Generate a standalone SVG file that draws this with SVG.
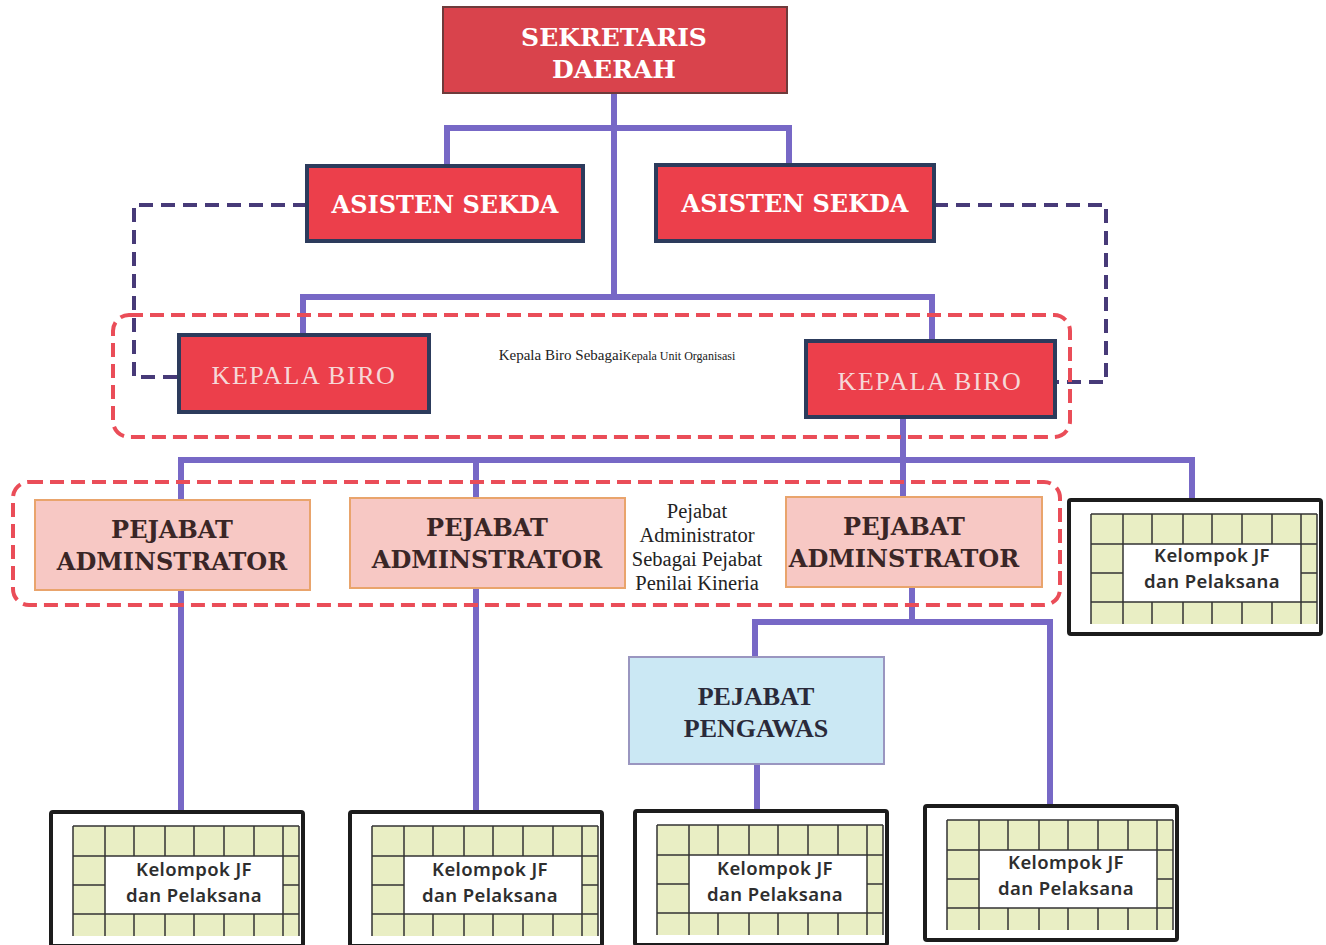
<svg xmlns="http://www.w3.org/2000/svg" xmlns:xlink="http://www.w3.org/1999/xlink" width="1326" height="945" viewBox="0 0 1326 945">
<style>
.red{fill:#ec3f4b;stroke:#2c3b5c;stroke-width:4}
.wt{fill:#ffffff;font-family:"DejaVu Serif","Liberation Serif",serif;font-weight:bold;text-anchor:middle}
.kb{fill:#f6d8d8;font-family:"Liberation Serif",serif;font-size:26px;letter-spacing:1.6px;text-anchor:middle}
.adm{fill:#f7c8c4;stroke:#e9a46c;stroke-width:2}
.admt{fill:#3a2626;font-family:"DejaVu Serif","Liberation Serif",serif;font-weight:bold;font-size:24px;text-anchor:middle}
.note{fill:#222;font-family:"Liberation Serif",serif;text-anchor:middle}
.kt{fill:#2e2e2e;font-family:"Noto Sans","Open Sans",sans-serif;font-weight:600;font-size:18.5px;letter-spacing:0.4px;text-anchor:middle}
.sol{fill:none;stroke:#7768c6;stroke-width:6}
.dsh{fill:none;stroke:#473a78;stroke-width:4;stroke-dasharray:14 8}
.rdd{fill:none;stroke:#ea4d58;stroke-width:4;stroke-dasharray:14 7}
</style>
<defs>
<g id="kjfbox">
<rect x="0" y="0" width="252" height="134" fill="#ffffff" stroke="#1c1c1c" stroke-width="4" rx="2"/>
<rect x="22" y="14" width="226" height="110" fill="#e9eec4"/>
<rect x="54" y="44" width="178" height="58" fill="#ffffff"/>
<g stroke="#333" stroke-width="1.5" fill="none">
<path d="M22,14 H248 M22,44 H248 M22,73 H54 M232,73 H248 M22,102 H248"/>
<path d="M22,14 V124 M54,14 V124 M248,14 V124 M232,14 V124"/>
<path d="M83,14 V44 M114,14 V44 M143,14 V44 M173,14 V44 M203,14 V44"/>
<path d="M83,102 V124 M114,102 V124 M143,102 V124 M173,102 V124 M203,102 V124"/>
</g>
</g>
</defs>
<rect width="1326" height="945" fill="#ffffff"/>

<g id="connectors">
<path class="sol" d="M614,93 V297 M447,166 V128 H789 V165 M303,335 V297 H932 V342 M903,417 V460 M181,500 V460 H1192 V499 M476,460 V498 M903,460 V497 M181,590 V811 M476,588 V811 M912,587 V622 M755,657 V622 H1050 V805 M757,764 V810"/>
<path class="dsh" d="M307,205 H134 V377 H179 M934,205 H1106 V382 H1055"/>
<rect class="rdd" x="113" y="315" width="957" height="122" rx="16"/>
<rect class="rdd" x="13" y="482" width="1047" height="123" rx="16"/>
</g>

<g id="sekda">
<rect x="443" y="7" width="344" height="86" fill="#d9434c" stroke="#6e3b3b" stroke-width="2"/>
<text class="wt" x="614" y="46" font-size="25">SEKRETARIS</text>
<text class="wt" x="614" y="78" font-size="25">DAERAH</text>
</g>

<g id="asisten1">
<rect class="red" x="307" y="166" width="276" height="75"/>
<text class="wt" x="445" y="213" font-size="24">ASISTEN SEKDA</text>
</g>
<g id="asisten2">
<rect class="red" x="656" y="165" width="278" height="76"/>
<text class="wt" x="795" y="212" font-size="24">ASISTEN SEKDA</text>
</g>

<g id="kepalabiro1">
<rect class="red" x="179" y="335" width="250" height="77"/>
<text class="kb" x="304" y="384">KEPALA BIRO</text>
</g>
<g id="kepalabiro2">
<rect class="red" x="806" y="341" width="249" height="76"/>
<text class="kb" x="930" y="390">KEPALA BIRO</text>
</g>

<g id="note1">
<text class="note" x="617" y="360"><tspan font-size="15">Kepala Biro Sebagai</tspan><tspan font-size="12">Kepala Unit  Organisasi</tspan></text>
</g>

<g id="adm1">
<rect class="adm" x="35" y="500" width="275" height="90"/>
<text class="admt" x="172" y="538">PEJABAT</text>
<text class="admt" x="172" y="570">ADMINSTRATOR</text>
</g>
<g id="adm2">
<rect class="adm" x="350" y="498" width="275" height="90"/>
<text class="admt" x="487" y="536">PEJABAT</text>
<text class="admt" x="487" y="568">ADMINSTRATOR</text>
</g>
<g id="adm3">
<rect class="adm" x="786" y="497" width="256" height="90"/>
<text class="admt" x="904" y="535">PEJABAT</text>
<text class="admt" x="904" y="567">ADMINSTRATOR</text>
</g>

<g id="note2">
<text class="note" font-size="20.5" x="697" y="518">Pejabat</text>
<text class="note" font-size="20.5" x="697" y="542">Administrator</text>
<text class="note" font-size="20.5" x="697" y="566">Sebagai Pejabat</text>
<text class="note" font-size="20.5" x="697" y="590">Penilai Kineria</text>
</g>

<g id="pengawas">
<rect x="629" y="657" width="255" height="107" fill="#cbe8f4" stroke="#9a96c0" stroke-width="2"/>
<text x="756" y="705" fill="#2a2a3a" font-family="Liberation Serif,serif" font-weight="bold" font-size="26" text-anchor="middle">PEJABAT</text>
<text x="756" y="737" fill="#2a2a3a" font-family="Liberation Serif,serif" font-weight="bold" font-size="26" text-anchor="middle">PENGAWAS</text>
</g>

<g id="kjf0" transform="translate(1069,500)">
<use xlink:href="#kjfbox"/>
<text class="kt" x="143" y="62">Kelompok JF</text>
<text class="kt" x="143" y="88">dan Pelaksana</text>
</g>
<g id="kjf1" transform="translate(51,812)">
<use xlink:href="#kjfbox"/>
<text class="kt" x="143" y="64">Kelompok JF</text>
<text class="kt" x="143" y="90">dan Pelaksana</text>
</g>
<g id="kjf2" transform="translate(350,812)">
<use xlink:href="#kjfbox"/>
<text class="kt" x="140" y="64">Kelompok JF</text>
<text class="kt" x="140" y="90">dan Pelaksana</text>
</g>
<g id="kjf3" transform="translate(635,811)">
<use xlink:href="#kjfbox"/>
<text class="kt" x="140" y="64">Kelompok JF</text>
<text class="kt" x="140" y="90">dan Pelaksana</text>
</g>
<g id="kjf4" transform="translate(925,806)">
<use xlink:href="#kjfbox"/>
<text class="kt" x="141" y="63">Kelompok JF</text>
<text class="kt" x="141" y="89">dan Pelaksana</text>
</g>
</svg>
